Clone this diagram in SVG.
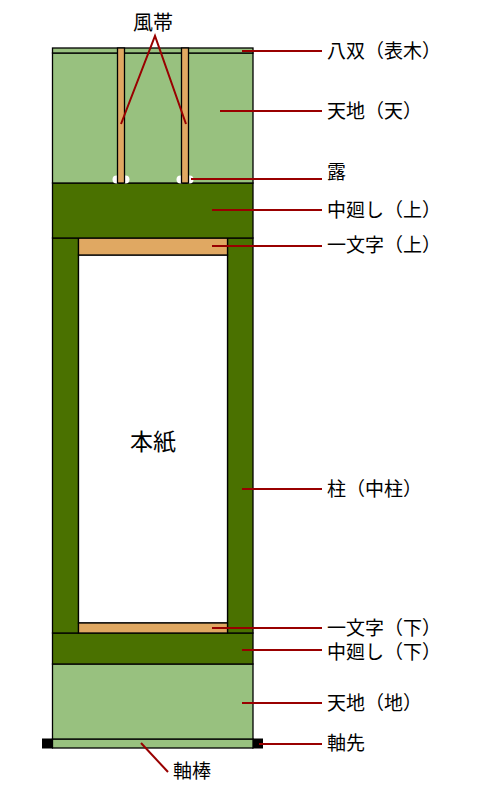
<svg xmlns="http://www.w3.org/2000/svg" width="482" height="800" viewBox="0 0 482 800">
<style>
.lg{fill:#98C17F;stroke:#000;stroke-width:1.3}
.dg{fill:#4A7100;stroke:#000;stroke-width:1.3}
.tan{fill:#E0A862;stroke:#000;stroke-width:1.3}
.wh{fill:#fff;stroke:#000;stroke-width:1.3}
.blk{fill:#000}
.ld{stroke:#990000;stroke-width:2;fill:none}
text{font-family:"Noto Sans CJK JP","Noto Sans CJK SC",sans-serif;font-size:19px;fill:#000}
</style>
<rect width="482" height="800" fill="#fff"/>
<g id="jikusaki">
<rect class="blk" x="42" y="738.5" width="11" height="10"/>
<rect class="blk" x="252" y="738.5" width="11" height="10"/>
</g>
<g id="jikubo"><rect class="lg" x="52.5" y="739" width="200.5" height="9"/></g>
<g id="tenchi-chi"><rect class="lg" x="52.5" y="664" width="200.5" height="75"/></g>
<g id="chuumawashi-shita"><rect class="dg" x="52.5" y="633" width="200.5" height="31"/></g>
<g id="hashira">
<rect class="dg" x="52.5" y="238" width="26" height="395"/>
<rect class="dg" x="227.5" y="238" width="25.5" height="395"/>
</g>
<g id="honshi"><rect class="wh" x="78.5" y="255" width="149" height="368"/></g>
<g id="ichimonji-ue"><rect class="tan" x="78.5" y="238" width="149" height="17"/></g>
<g id="ichimonji-shita"><rect class="tan" x="78.5" y="623" width="149" height="10"/></g>
<g id="chuumawashi-ue"><rect class="dg" x="52.5" y="183" width="200.5" height="55"/></g>
<g id="tenchi-ten"><rect class="lg" x="52.5" y="53" width="200.5" height="130"/></g>
<g id="hasso"><rect class="lg" x="52.5" y="48" width="200.5" height="5"/></g>
<g id="tsuyu" fill="#fff">
<circle cx="116.5" cy="179.5" r="4"/>
<circle cx="125.5" cy="179.5" r="4"/>
<circle cx="180.5" cy="179.5" r="4"/>
<circle cx="189.5" cy="179.5" r="4"/>
</g>
<g id="futai">
<rect class="tan" x="117.5" y="48" width="7" height="135"/>
<rect class="tan" x="181.5" y="48" width="7" height="135"/>
</g>
<g id="honshi-label"><text x="130" y="450" style="font-size:23px">本紙</text></g>
<g id="connectors">
<polyline class="ld" points="121,124 155,36 186,124"/>
<line class="ld" x1="242" y1="51" x2="322" y2="51"/>
<line class="ld" x1="220" y1="111" x2="322" y2="111"/>
<line class="ld" x1="191" y1="179" x2="322" y2="179"/>
<line class="ld" x1="212" y1="210" x2="322" y2="210"/>
<line class="ld" x1="212" y1="246" x2="322" y2="246"/>
<line class="ld" x1="242" y1="489" x2="322" y2="489"/>
<line class="ld" x1="212" y1="628" x2="322" y2="628"/>
<line class="ld" x1="242" y1="650" x2="322" y2="650"/>
<line class="ld" x1="242" y1="703" x2="322" y2="703"/>
<line class="ld" x1="259" y1="744" x2="322" y2="744"/>
<line class="ld" x1="141" y1="743" x2="168" y2="772"/>
</g>
<g id="labels">
<text x="133" y="30" style="font-size:20px">風帯</text>
<text x="327" y="58">八双（表木）</text>
<text x="327" y="118">天地（天）</text>
<text x="327" y="179">露</text>
<text x="327" y="217">中廻し（上）</text>
<text x="327" y="252">一文字（上）</text>
<text x="327" y="496">柱（中柱）</text>
<text x="327" y="635">一文字（下）</text>
<text x="327" y="659">中廻し（下）</text>
<text x="327" y="710">天地（地）</text>
<text x="327" y="750">軸先</text>
<text x="173" y="778">軸棒</text>
</g>
</svg>
